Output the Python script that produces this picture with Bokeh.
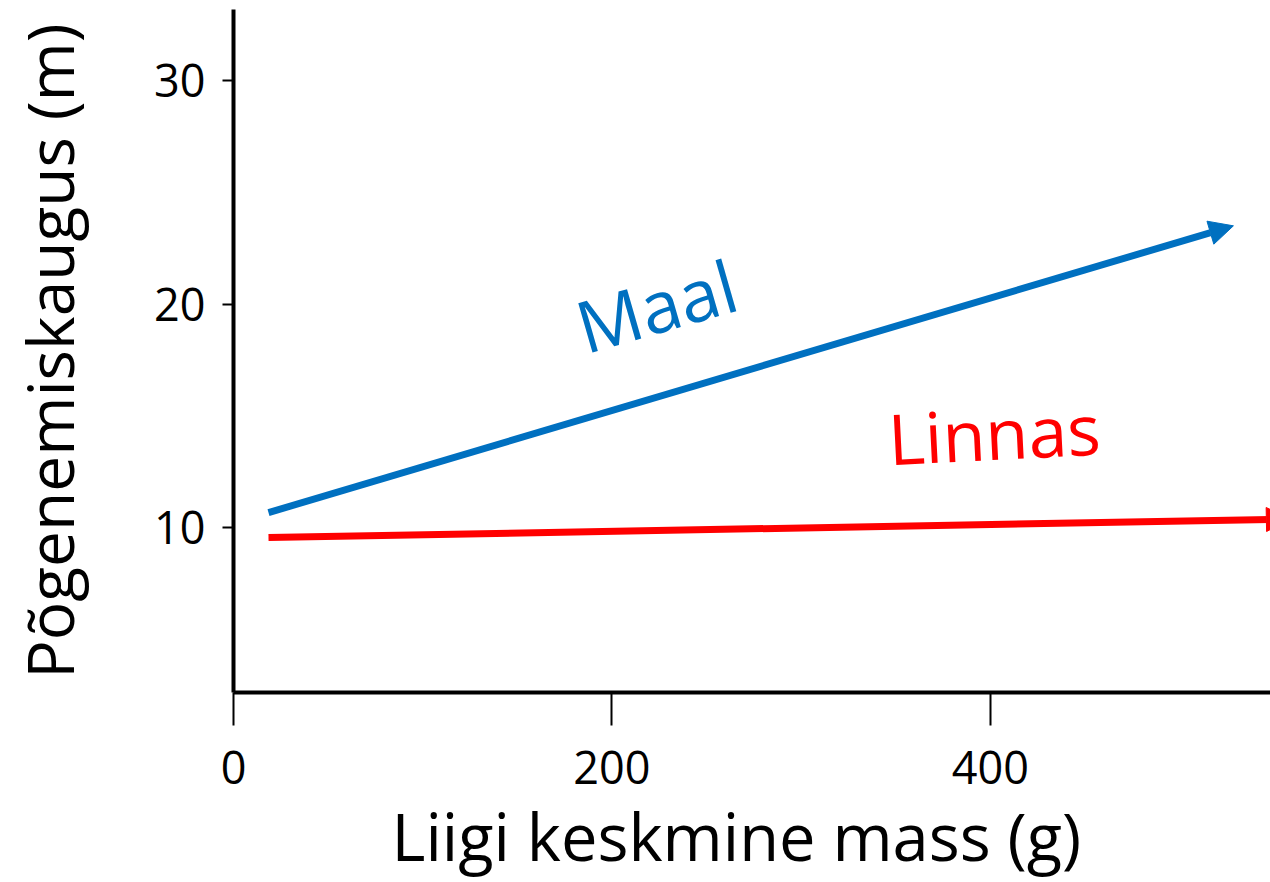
from bokeh.plotting import figure
from bokeh.models import Arrow, NormalHead, ColumnDataSource, Label, FixedTicker, Range1d, Title
from bokeh.embed import file_html
from bokeh.resources import INLINE

# ---- data ----
series = ["Maal", "Linnas"]
series_colors = ["#0070C0", "#FF0000"]
mass_start = [18.5, 18.5]          # g
mass_end = [528.4, 558.5]          # g
distance_start = [10.67, 9.55]     # m
distance_end = [23.5, 10.38]       # m
x_ticks = [0, 200, 400]
y_ticks = [10, 20, 30]
x_title = "Liigi keskmine mass (g)"
y_title = "Põgenemiskaugus (m)"

FONT = "Open Sans"

p = figure(width=1270, height=882, output_backend="svg", toolbar_location=None,
           x_range=Range1d(0, 548), y_range=Range1d(2.62, 33.18),
           min_border_left=233, min_border_right=0, min_border_top=9,
           min_border_bottom=190)
p.background_fill_color = "white"
p.border_fill_color = "white"
p.outline_line_color = None
p.xgrid.visible = False
p.ygrid.visible = False

for ax, ticks in ((p.xaxis[0], x_ticks), (p.yaxis[0], y_ticks)):
    ax.ticker = FixedTicker(ticks=ticks)
    ax.minor_tick_line_color = None
    ax.axis_line_width = 4
    ax.axis_line_color = "black"
    ax.major_tick_line_width = 2
    ax.major_tick_line_color = "black"
    ax.major_tick_in = 0
    ax.major_label_text_font = FONT
    ax.major_label_text_font_size = "45px"
    ax.major_label_text_color = "black"

p.xaxis.major_tick_out = 33
p.xaxis.major_label_standoff = 25
p.yaxis.major_tick_out = 11
p.yaxis.major_label_standoff = 17

# y axis title
p.yaxis.axis_label = y_title
p.yaxis.axis_label_text_font = FONT
p.yaxis.axis_label_text_font_size = "64px"
p.yaxis.axis_label_text_font_style = "normal"
p.yaxis.axis_label_text_color = "black"
p.yaxis.axis_label_standoff = 58

# x axis title (a panel title, so it can be shifted left like the reference)
p.add_layout(Title(text=x_title, align="left", offset=158, standoff=6,
                   text_font=FONT, text_font_size="65px", text_font_style="normal",
                   text_color="black"), "below")

for i, name in enumerate(series):
    src = ColumnDataSource(dict(x0=[mass_start[i]], y0=[distance_start[i]],
                                x1=[mass_end[i]], y1=[distance_end[i]]))
    head = NormalHead(size=24, fill_color=series_colors[i], line_color=series_colors[i], line_width=1)
    p.add_layout(Arrow(end=head, x_start="x0", y_start="y0", x_end="x1", y_end="y1",
                       source=src, line_color=series_colors[i], line_width=7))

# series labels
p.add_layout(Label(x=182, y=18.95, text=series[0], angle=0.28, text_font=FONT,
                   text_font_size="72px", text_color=series_colors[0],
                   text_align="left", text_baseline="alphabetic"))
p.add_layout(Label(x=346, y=14.0, text=series[1], angle=0.05, text_font=FONT,
                   text_font_size="70px", text_color=series_colors[1],
                   text_align="left", text_baseline="alphabetic"))

open("out.html", "w").write(file_html(p, INLINE))
